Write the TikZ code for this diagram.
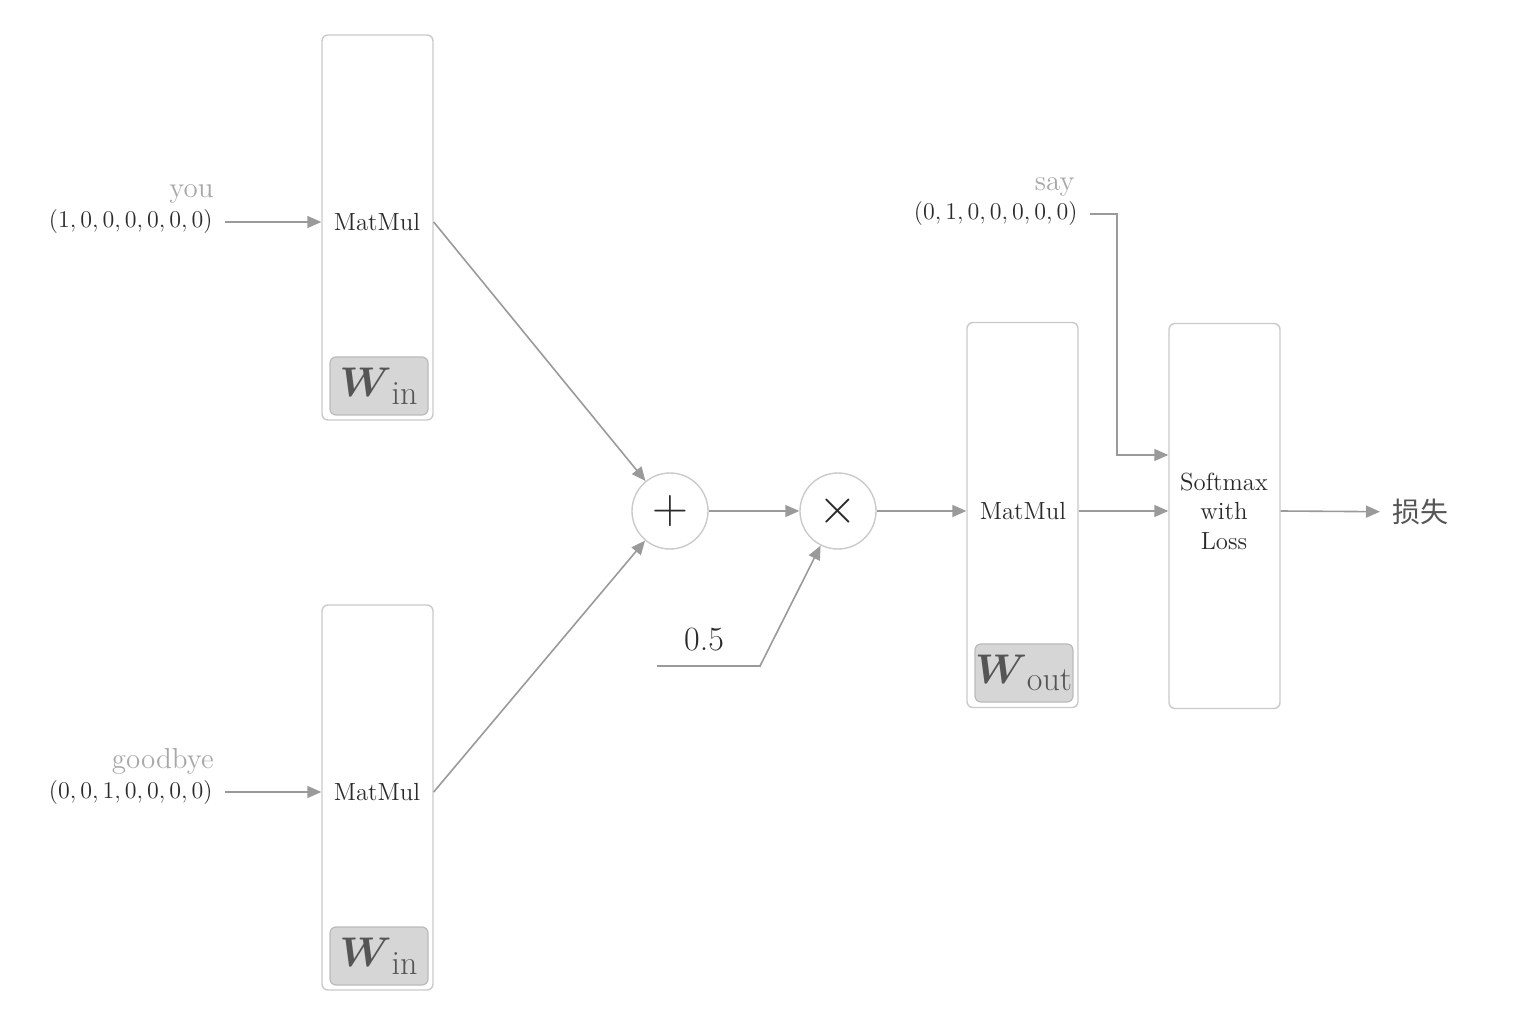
\documentclass[tikz,border=0pt]{standalone}
\usepackage{amsmath,amssymb}
\usepackage{fontspec}
\usepackage{tikz}
\usetikzlibrary{arrows.meta,positioning}
\newfontfamily\cjk{Noto Sans CJK SC}
\definecolor{linegray}{HTML}{9A9A9A}
\definecolor{boxgray}{HTML}{CACACA}
\definecolor{wfill}{HTML}{D6D6D6}
\definecolor{wgray}{HTML}{BBBBBB}
\definecolor{wtext}{HTML}{555555}
\definecolor{vectext}{HTML}{2A2A2A}
\definecolor{wordgray}{HTML}{A8A8A8}
\newcommand{\wmat}[1]{$\boldsymbol{W}_{\mbox{\fontsize{17}{17}\selectfont #1}}$}

\tikzset{
  layer/.style={draw=boxgray, line width=0.7pt, rounded corners=3pt, minimum width=55.5pt, minimum height=192.5pt, inner sep=0pt},
  weight/.style={draw=wgray, fill=wfill, line width=0.6pt, rounded corners=3pt, minimum width=49pt, minimum height=29pt, inner sep=0pt, text=wtext, font=\fontsize{22}{24}\selectfont},
  op/.style={circle, draw=boxgray, line width=0.7pt, minimum size=38pt, inner sep=0pt, font=\fontsize{23}{25}\selectfont, text=vectext},
  arr/.style={draw=linegray, line width=0.8pt, -{Triangle[length=7pt,width=6pt,fill=linegray]}},
  vec/.style={anchor=east, inner sep=6pt, text=vectext, font=\fontsize{12}{14}\selectfont},
  word/.style={anchor=base east, inner sep=0pt, text=wordgray, font=\fontsize{14.5}{16}\selectfont},
  lbl/.style={font=\fontsize{12.4}{14.8}\selectfont, text=vectext, align=center},
}

\begin{document}
\begin{tikzpicture}[x=0.5pt, y=-0.5pt]
        \useasboundingbox (0,0) rectangle (1522,1026);
        % input layers
        \node[layer] (mm1) at (377.5,227.5) {};
        \node[weight] (w1) at (379,386) {\wmat{in}};
        \node[lbl] (t1) at (377,222) {MatMul};
        \node[vec] (in1) at (225,222) {$(1,0,0,0,0,0,0)$};
        \node[word] (you) at (214,198) {you};
        \node[layer] (mm2) at (377.5,797.5) {};
        \node[weight] (w2) at (379,956) {\wmat{in}};
        \node[lbl] (t2) at (377,792) {MatMul};
        \node[vec] (in2) at (225,792) {$(0,0,1,0,0,0,0)$};
        \node[word] (bye) at (214,768) {goodbye};
        \draw[arr] (in1.east) -- (mm1.west |- in1.east);
        \draw[arr] (in2.east) -- (mm2.west |- in2.east);
        % sum and average
        \node[op] (plus) at (670,511) {$+$};
        \node[op] (times) at (838,511) {$\times$};
        \draw[arr] (mm1.east |- t1) -- (plus);
        \draw[arr] (mm2.east |- t2) -- (plus);
        \draw[arr] (plus) -- (times);
        \node[text=vectext, font=\fontsize{17}{20}\selectfont] (half) at (704,640) {0.5};
        \coordinate (h1) at (657,666);
        \coordinate (h2) at (760,666);
        \draw[arr] (h1) -- (h2) -- (times);
        % output layer
        \node[layer] (mm3) at (1022.5,515) {};
        \node[weight] (w3) at (1024,673) {\wmat{out}};
        \node[lbl] (t3) at (1023,511) {MatMul};
        \draw[arr] (times) -- (mm3.west |- times);
        \node[layer] (sm) at (1224.5,516) {};
        \node[lbl] (t4) at (1224,511) {Softmax\\with\\Loss};
        \draw[arr] (mm3.east |- t3) -- (sm.west |- t3);
        \node[vec] (in3) at (1090,214) {$(0,1,0,0,0,0,0)$};
        \node[word] (say) at (1075,191) {say};
        \coordinate (k) at (1117,455);
        \draw[arr] (in3.east) -| (k) -- (sm.west |- k);
        \node[anchor=west, inner sep=6pt, text=wtext, font=\cjk\fontsize{14}{16}\selectfont] (loss) at (1380,512) {损失};
        \draw[arr] (sm.east |- t4) -- (loss);
    \end{tikzpicture}
\end{document}
